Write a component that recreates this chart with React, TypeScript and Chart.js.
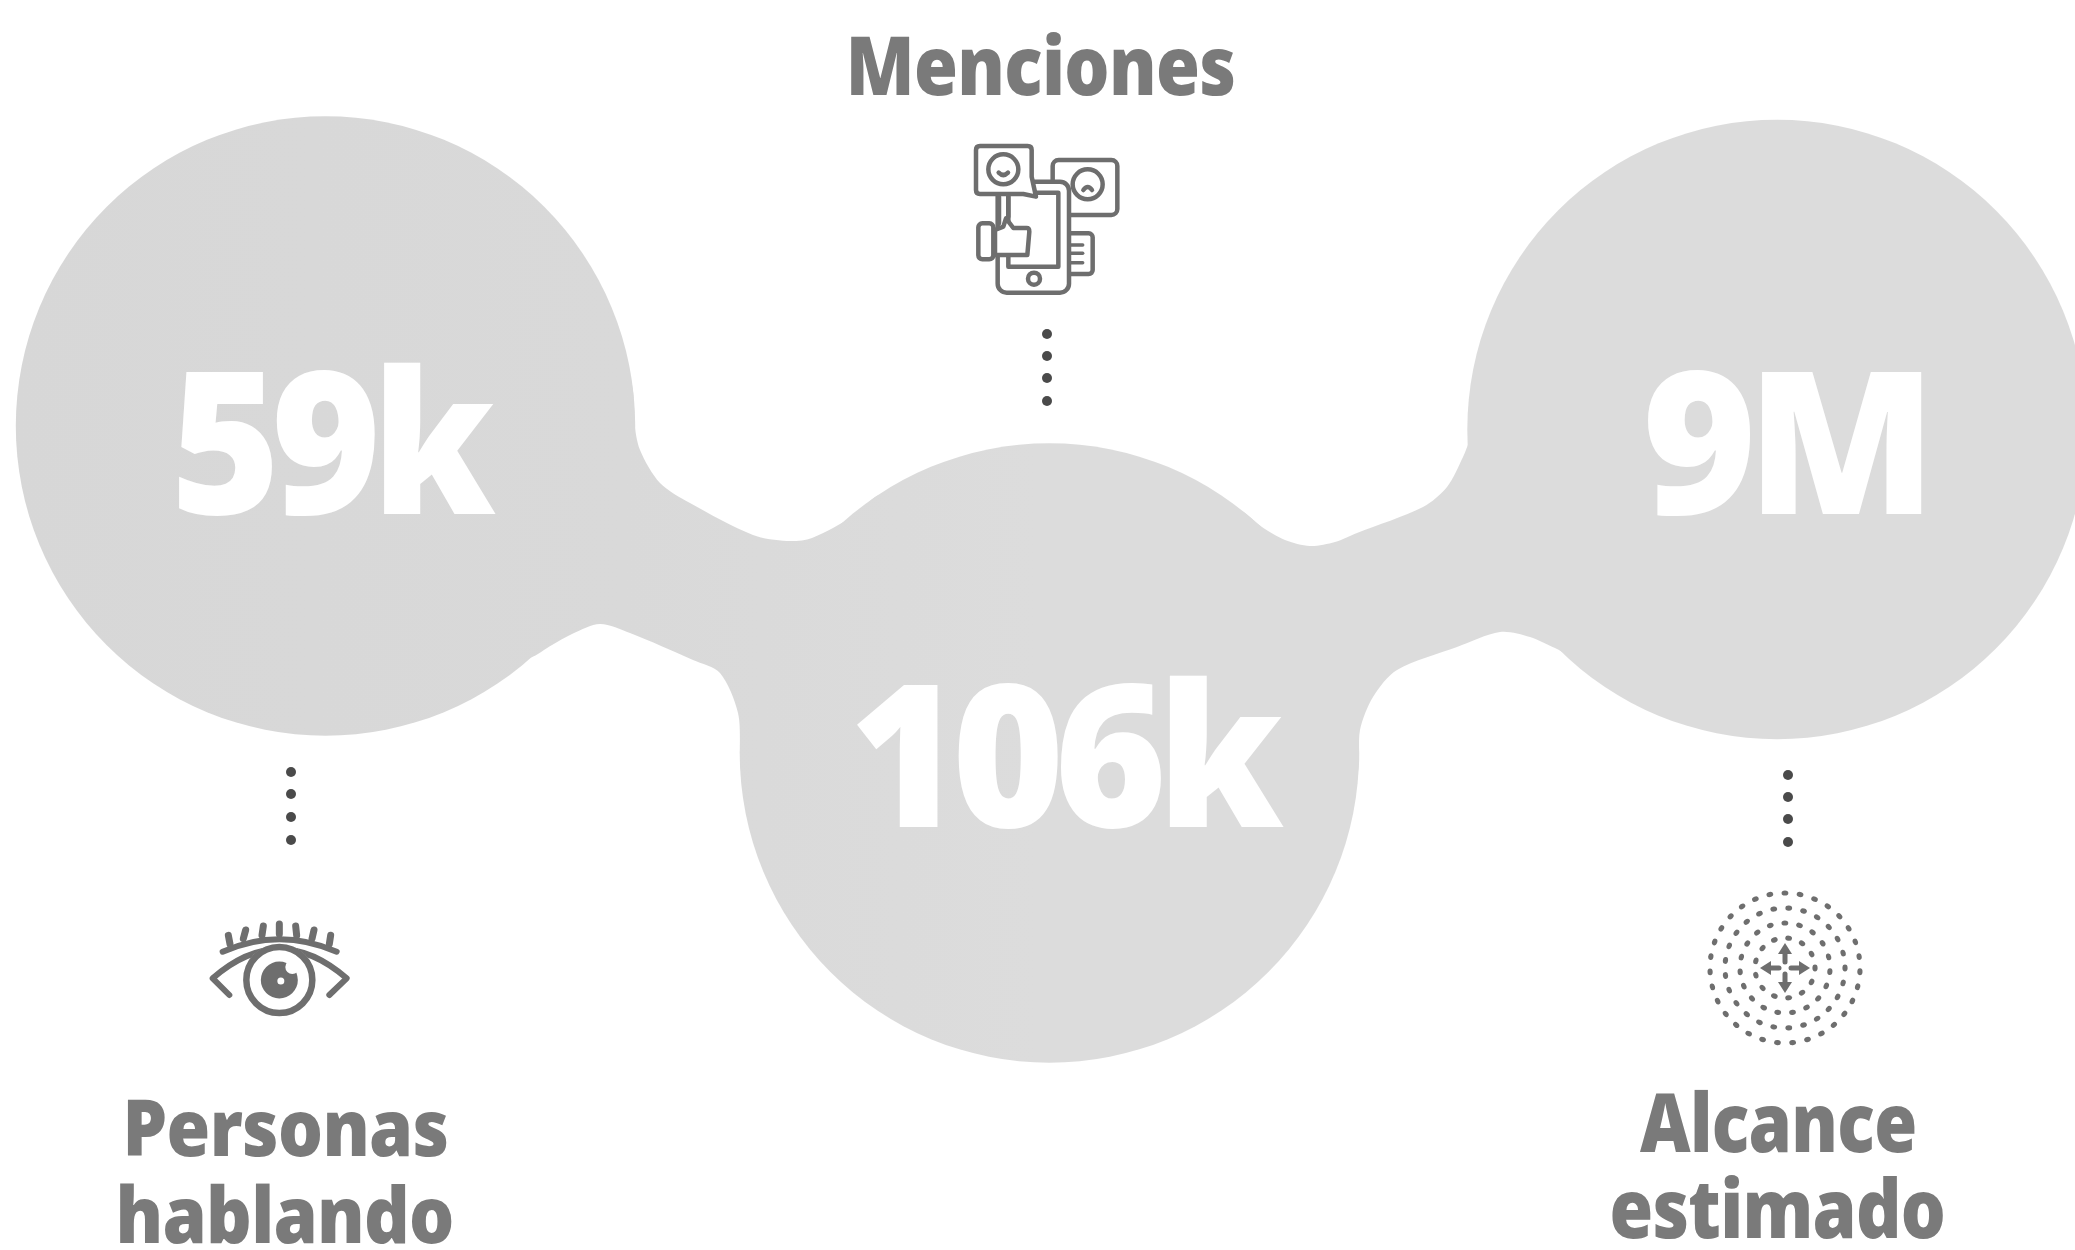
import React, { useEffect, useRef } from "react";
import { Chart, registerables } from "chart.js";

Chart.register(...registerables);

const metricLabels = ["Personas hablando", "Menciones", "Alcance estimado"];
const metricValues = ["59k", "106k", "9M"];
const bubbleX = [325.5, 1049.4, 1777];
const bubbleY = [426, 753, 429.5];

const dotColumnX = [291, 1047, 1788];
const dotRowsY = [
  [772, 794, 817, 840],
  [334, 356, 378, 401],
  [775, 797, 819, 842],
];

const bridgeLeftX = [615, 632, 634, 640, 660, 690, 753, 787, 812, 855, 880, 905, 900, 765, 743, 738, 720, 693, 630, 600, 572, 552, 530, 505, 480];
const bridgeLeftY = [345, 385, 420, 450, 483, 503, 535, 541, 538, 515, 495, 510, 760, 790, 770, 713, 673, 660, 633, 624, 634, 645, 658, 662, 620];
const bridgeRightX = [1205, 1240, 1262, 1285, 1310, 1335, 1357, 1423, 1447, 1463, 1470, 1490, 1570, 1585, 1555, 1530, 1500, 1457, 1397, 1373, 1360, 1357, 1335];
const bridgeRightY = [500, 510, 527, 540, 546, 542, 533, 507, 487, 457, 440, 400, 560, 660, 648, 637, 632, 647, 670, 697, 730, 775, 795];

const BUBBLE_RADIUS = 309.7;
const LABEL_GREY = "#7a7a7a";
const ICON_GREY = "#6e6e6e";
const FONT_FAMILY = '"Noto Sans", "Open Sans", sans-serif';

type Tx = { text: string; x0: number; x1: number; base: number; size: number; color: string; track: number };
const textRuns: Tx[] = [
  { text: metricValues[0], x0: 179, x1: 496, base: 514, size: 198, color: "#ffffff", track: -0.05 },
  { text: metricValues[1], x0: 857, x1: 1284, base: 827, size: 198, color: "#ffffff", track: -0.05 },
  { text: metricValues[2], x0: 1648, x1: 1922, base: 514, size: 198, color: "#ffffff", track: -0.05 },
  { text: metricLabels[1], x0: 851, x1: 1234, base: 95, size: 82, color: LABEL_GREY, track: -0.01 },
  { text: "Personas", x0: 128, x1: 447, base: 1156, size: 78, color: LABEL_GREY, track: -0.01 },
  { text: "hablando", x0: 120, x1: 452, base: 1243, size: 78, color: LABEL_GREY, track: -0.01 },
  { text: "Alcance", x0: 1640, x1: 1915, base: 1152, size: 82, color: LABEL_GREY, track: -0.01 },
  { text: "estimado", x0: 1612, x1: 1943, base: 1238, size: 82, color: LABEL_GREY, track: -0.01 },
];

function roundRect(ctx: CanvasRenderingContext2D, x0: number, y0: number, x1: number, y1: number, r: number) {
  ctx.beginPath();
  ctx.roundRect(x0, y0, x1 - x0, y1 - y0, r);
  ctx.fill();
  ctx.stroke();
}

function circle(ctx: CanvasRenderingContext2D, x: number, y: number, r: number, fill = false) {
  ctx.beginPath();
  ctx.arc(x, y, r, 0, Math.PI * 2);
  if (fill) ctx.fill();
  else ctx.stroke();
}

function drawEye(ctx: CanvasRenderingContext2D) {
  ctx.strokeStyle = ICON_GREY;
  ctx.fillStyle = ICON_GREY;
  ctx.lineCap = "round";
  ctx.lineJoin = "round";
  const ox = 100;
  const oy = 750;
  const p = (x: number, y: number): [number, number] => [ox + x / 3, oy + y / 3];
  ctx.lineWidth = 6;
  ctx.beginPath();
  ctx.moveTo(...p(368, 605));
  ctx.quadraticCurveTo(...p(538, 530), ...p(710, 605));
  ctx.stroke();
  ctx.beginPath();
  ctx.moveTo(...p(388, 735));
  ctx.lineTo(...p(338, 685));
  ctx.quadraticCurveTo(...p(538, 510), ...p(740, 685));
  ctx.lineTo(...p(688, 735));
  ctx.stroke();
  ctx.lineWidth = 7;
  const lashes = [
    [390, 582, 385, 556],
    [430, 566, 437, 540],
    [486, 556, 490, 528],
    [538, 552, 538, 522],
    [590, 556, 587, 528],
    [636, 566, 642, 540],
    [688, 582, 692, 556],
  ];
  lashes.forEach(([a, b, c, d]) => {
    ctx.beginPath();
    ctx.moveTo(...p(a, b));
    ctx.lineTo(...p(c, d));
    ctx.stroke();
  });
  const [cx, cy] = p(538, 690);
  ctx.fillStyle = "#ffffff";
  circle(ctx, cx, cy, 36, true);
  ctx.lineWidth = 6.5;
  circle(ctx, cx, cy, 33);
  ctx.fillStyle = ICON_GREY;
  circle(ctx, cx, cy, 18.5, true);
  ctx.fillStyle = "#ffffff";
  circle(ctx, cx + 1.5, cy + 1, 3.5, true);
  circle(ctx, cx + 13, cy - 13, 7, true);
}

function drawPhone(ctx: CanvasRenderingContext2D) {
  ctx.strokeStyle = ICON_GREY;
  ctx.fillStyle = "#ffffff";
  ctx.lineWidth = 4.5;
  ctx.lineCap = "round";
  ctx.lineJoin = "round";
  const ox = 900;
  const X = (x: number) => ox + x / 3;
  const Y = (y: number) => y / 3;
  roundRect(ctx, X(458), Y(480), X(652), Y(645), 6);
  circle(ctx, X(563), Y(553), 15);
  ctx.beginPath();
  ctx.moveTo(X(550), Y(570));
  ctx.quadraticCurveTo(X(563), Y(552), X(576), Y(570));
  ctx.stroke();
  roundRect(ctx, X(500), Y(700), X(578), Y(822), 4);
  ctx.lineWidth = 3.5;
  [735, 760, 788].forEach((y) => {
    ctx.beginPath();
    ctx.moveTo(X(510), Y(y));
    ctx.lineTo(X(548), Y(y));
    ctx.stroke();
  });
  ctx.lineWidth = 4.5;
  roundRect(ctx, X(293), Y(545), X(507), Y(878), 9);
  ctx.beginPath();
  ctx.rect(X(325), Y(578), X(475) - X(325), Y(800) - Y(578));
  ctx.stroke();
  circle(ctx, X(402), Y(836), 6);
  // speech bubble
  ctx.beginPath();
  ctx.moveTo(X(240), Y(438));
  ctx.lineTo(X(383), Y(438));
  ctx.quadraticCurveTo(X(395), Y(438), X(395), Y(450));
  ctx.lineTo(X(395), Y(530));
  ctx.lineTo(X(408), Y(590));
  ctx.lineTo(X(370), Y(582));
  ctx.lineTo(X(240), Y(582));
  ctx.quadraticCurveTo(X(228), Y(582), X(228), Y(570));
  ctx.lineTo(X(228), Y(450));
  ctx.quadraticCurveTo(X(228), Y(438), X(240), Y(438));
  ctx.closePath();
  ctx.fill();
  ctx.stroke();
  circle(ctx, X(310), Y(508), 15);
  ctx.beginPath();
  ctx.moveTo(X(296), Y(518));
  ctx.quadraticCurveTo(X(310), Y(532), X(324), Y(518));
  ctx.stroke();
  // stem and thumb
  ctx.beginPath();
  ctx.moveTo(X(297), Y(590));
  ctx.lineTo(X(297), Y(670));
  ctx.moveTo(X(325), Y(590));
  ctx.lineTo(X(325), Y(650));
  ctx.stroke();
  roundRect(ctx, X(235), Y(670), X(280), Y(778), 4);
  ctx.beginPath();
  ctx.moveTo(X(285), Y(690));
  ctx.lineTo(X(310), Y(680));
  ctx.lineTo(X(318), Y(655));
  ctx.lineTo(X(340), Y(684));
  ctx.lineTo(X(380), Y(684));
  ctx.quadraticCurveTo(X(388), Y(684), X(388), Y(695));
  ctx.lineTo(X(382), Y(765));
  ctx.lineTo(X(285), Y(765));
  ctx.closePath();
  ctx.fill();
  ctx.stroke();
}

function drawReach(ctx: CanvasRenderingContext2D) {
  const cx = 1785;
  const cy = 968;
  ctx.fillStyle = ICON_GREY;
  ctx.strokeStyle = ICON_GREY;
  const rings: [number, number, number][] = [
    [75, 31, 0.05],
    [60, 25, 0.0],
    [45, 19, 0.08],
    [30, 13, 0.0],
  ];
  rings.forEach(([r, n, off]) => {
    for (let i = 0; i < n; i++) {
      const a = off + (i / n) * Math.PI * 2;
      ctx.save();
      ctx.translate(cx + r * Math.cos(a), cy + r * Math.sin(a));
      ctx.rotate(a + Math.PI / 2);
      ctx.beginPath();
      ctx.ellipse(0, 0, 3.4, 2.6, 0, 0, Math.PI * 2);
      ctx.fill();
      ctx.restore();
    }
  });
  [0, Math.PI / 2, Math.PI, (3 * Math.PI) / 2].forEach((a) => {
    ctx.save();
    ctx.translate(cx, cy);
    ctx.rotate(a);
    ctx.lineWidth = 5;
    ctx.beginPath();
    ctx.moveTo(6, 0);
    ctx.lineTo(18, 0);
    ctx.stroke();
    ctx.beginPath();
    ctx.moveTo(25, 0);
    ctx.lineTo(14, -7);
    ctx.lineTo(14, 7);
    ctx.closePath();
    ctx.fill();
    ctx.restore();
  });
}

const overlay = {
  id: "overlay",
  afterDatasetsDraw(chart: any) {
    const ctx: CanvasRenderingContext2D = chart.ctx;
    const xs = chart.scales.x;
    const ys = chart.scales.y;
    textRuns.forEach((t) => {
      ctx.save();
      ctx.font = `900 ${t.size}px ${FONT_FAMILY}`;
      (ctx as any).letterSpacing = `${t.size * t.track}px`;
      ctx.fillStyle = t.color;
      ctx.textBaseline = "alphabetic";
      ctx.textAlign = "left";
      const m = ctx.measureText(t.text);
      const left = m.actualBoundingBoxLeft;
      const w = m.actualBoundingBoxRight + left;
      const px0 = xs.getPixelForValue(t.x0);
      const px1 = xs.getPixelForValue(t.x1);
      ctx.translate(px0, ys.getPixelForValue(t.base));
      ctx.scale((px1 - px0) / w, 1);
      ctx.fillText(t.text, left, 0);
      ctx.restore();
    });
    ctx.save();
    drawEye(ctx);
    drawPhone(ctx);
    drawReach(ctx);
    ctx.restore();
  },
};

export default function App() {
  const ref = useRef<HTMLCanvasElement | null>(null);
  useEffect(() => {
    if (!ref.current) return;
    const polygon = (xs: number[], ys: number[]) => xs.map((x, i) => ({ x, y: ys[i] }));
    const context = ref.current.getContext("2d") as CanvasRenderingContext2D;
    const wash = context.createLinearGradient(0, 0, 2075, 0);
    wash.addColorStop(0, "#d7d7d7");
    wash.addColorStop(0.3, "#d9d9d9");
    wash.addColorStop(0.5, "#dcdcdc");
    wash.addColorStop(1, "#dcdcdc");
    const chart = new Chart(ref.current, {
      type: "bubble",
      data: {
        datasets: [
          {
            type: "bubble",
            label: "Métricas",
            data: bubbleX.map((x, i) => ({ x, y: bubbleY[i], r: BUBBLE_RADIUS })),
            backgroundColor: wash,
            borderWidth: 0,
            hoverRadius: 0,
            clip: false,
            order: 3,
          } as any,
          {
            type: "line",
            label: "Puente izquierdo",
            data: polygon(bridgeLeftX, bridgeLeftY),
            backgroundColor: wash,
            borderWidth: 0,
            pointRadius: 0,
            tension: 0.3,
            fill: "shape",
            clip: false,
            order: 2,
          } as any,
          {
            type: "line",
            label: "Puente derecho",
            data: polygon(bridgeRightX, bridgeRightY),
            backgroundColor: wash,
            borderWidth: 0,
            pointRadius: 0,
            tension: 0.3,
            fill: "shape",
            clip: false,
            order: 2,
          } as any,
          ...dotColumnX.map((x, c) => ({
            type: "scatter",
            label: `Puntos ${metricLabels[c]}`,
            data: dotRowsY[c].map((y) => ({ x, y })),
            pointRadius: 5,
            pointBackgroundColor: "#4a4a4a",
            pointBorderWidth: 0,
            showLine: false,
            order: 1,
          })) as any,
        ],
      },
      options: {
        animation: false,
        responsive: false,
        maintainAspectRatio: false,
        layout: { padding: 0, autoPadding: false },
        events: [],
        plugins: { legend: { display: false }, tooltip: { enabled: false }, title: { display: false } },
        scales: {
          x: { type: "linear", min: 0, max: 2075, display: false },
          y: { type: "linear", min: 0, max: 1250, reverse: true, display: false },
        },
      },
      plugins: [overlay],
    } as any);
    return () => chart.destroy();
  }, []);
  return (
    <canvas
      ref={ref}
      width={2075}
      height={1250}
      style={{ position: "fixed", left: 0, top: 0, width: 2075, height: 1250, display: "block", background: "#ffffff" }}
    />
  );
}
